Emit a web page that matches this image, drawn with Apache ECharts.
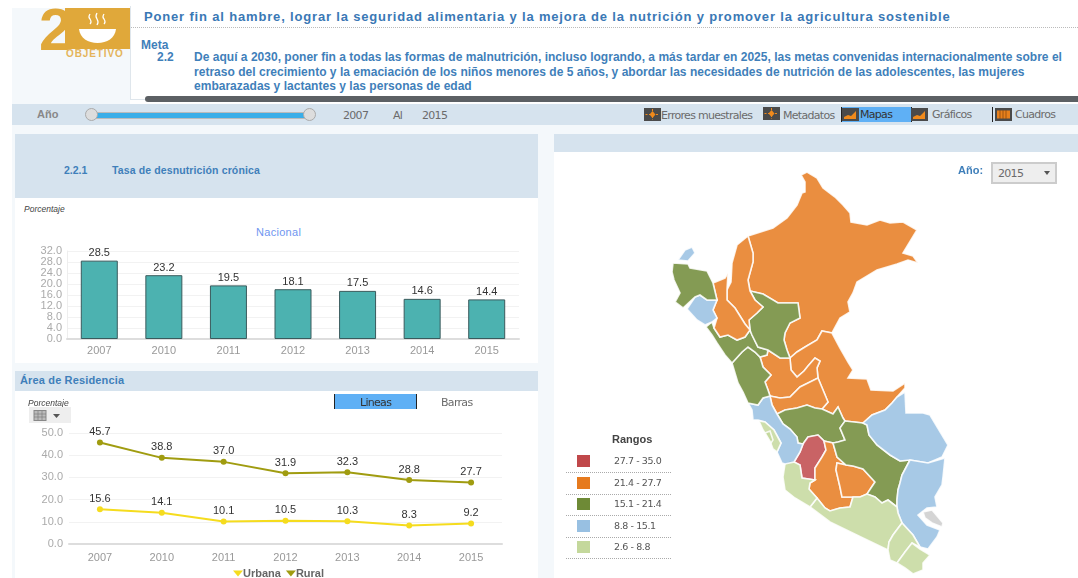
<!DOCTYPE html>
<html>
<head>
<meta charset="utf-8">
<title>Objetivo 2</title>
<script src="https://cdn.jsdelivr.net/npm/echarts@6/dist/echarts.min.js"></script>
<style>
html, body { margin: 0; padding: 0; background: #fff; overflow: hidden; }
body { width: 1078px; height: 578px; position: relative; font-family: "Liberation Sans", Arial, sans-serif; }
.box { position: absolute; }
.txt { position: absolute; white-space: nowrap; }
.blue { color: #3f7fba; font-weight: bold; }
.tab { color: #6b6b6b; font-size: 11px; font-family: "DejaVu Sans", sans-serif; letter-spacing: -0.7px; }
.icon { position: absolute; }
.rango { position: absolute; left: 566px; width: 105px; height: 22px; border-bottom: 1px dotted #aaa; }
.rango i { position: absolute; left: 11px; top: 5px; width: 13px; height: 12px; }
.rango span { position: absolute; left: 48px; top: 5px; font-size: 9.5px; color: #555; font-family: "DejaVu Sans", sans-serif; letter-spacing: -0.4px; }
</style>
</head>
<body>
<!-- fondo -->
<div class="box" style="left:12px;top:8px;width:118px;height:96px;background:#f4f8fb"></div>
<div class="box" style="left:12px;top:125px;width:1066px;height:453px;background:#f4f8fb"></div>
<div class="box" style="left:12px;top:104px;width:1066px;height:21px;background:#d6e3ee"></div>

<!-- logo -->
<div class="txt" style="left:39px;top:-1px;font-size:60px;line-height:62px;font-weight:bold;color:#e0a83a;font-family:'Liberation Sans Narrow','Liberation Sans'">2</div>
<svg class="box" style="left:65px;top:8px" width="66" height="41" viewBox="0 0 66 41">
  <rect width="66" height="41" fill="#e0a83a"/>
  <path d="M14 21 H51 C50 30 42 35 32.5 35 C23 35 15 30 14 21 Z" fill="#fff"/>
  <path d="M25 6 q-2 3 0 5 q2 3 0 5 M32 5 q-2 3 0 6 q2 3 0 6 M39 6 q-2 3 0 5 q2 3 0 5" stroke="#fff" stroke-width="1.3" fill="none"/>
</svg>
<div class="txt" style="left:66px;top:48px;font-size:10px;font-weight:bold;color:#e4b45a;letter-spacing:.9px">OBJETIVO</div>

<!-- encabezado -->
<div class="box" style="left:130px;top:6px;width:948px;height:93px;border-left:1px solid #dfe6ec;border-bottom:1px solid #dfe6ec"></div>
<div class="txt blue" style="left:144px;top:9px;font-size:13px;letter-spacing:.83px;color:#3a78b5">Poner fin al hambre, lograr la seguridad alimentaria y la mejora de la nutrición y promover la agricultura sostenible</div>
<div class="box" style="left:131px;top:27px;width:947px;border-top:1px dotted #bbb"></div>
<div class="txt blue" style="left:141px;top:38px;font-size:12px">Meta</div>
<div class="txt blue" style="left:157px;top:50px;font-size:12px">2.2</div>
<div class="txt blue" style="left:194px;top:50px;font-size:12px;line-height:14.5px;letter-spacing:.02px">De aquí a 2030, poner fin a todas las formas de malnutrición, incluso logrando, a más tardar en 2025, las metas convenidas internacionalmente sobre el<br>retraso del crecimiento y la emaciación de los niños menores de 5 años, y abordar las necesidades de nutrición de las adolescentes, las mujeres<br>embarazadas y lactantes y las personas de edad</div>
<div class="box" style="left:145px;top:96px;width:933px;height:6px;background:#5c6064;border-radius:3px 0 0 3px"></div>

<!-- barra de filtros -->
<div class="txt" style="left:37px;top:108px;font-size:11px;font-weight:bold;color:#888">Año</div>
<div class="box" style="left:92px;top:112px;width:218px;height:5px;background:#3aaee8;border:1px solid #bbb;border-radius:3px"></div>
<div class="box" style="left:85px;top:108px;width:11px;height:11px;background:#ddd;border:1px solid #aaa;border-radius:50%"></div>
<div class="box" style="left:303px;top:108px;width:11px;height:11px;background:#ddd;border:1px solid #aaa;border-radius:50%"></div>
<div class="txt tab" style="left:343px;top:109px">2007</div>
<div class="txt tab" style="left:393px;top:109px">Al</div>
<div class="txt tab" style="left:422px;top:109px">2015</div>
<div class="box" style="left:841px;top:107px;width:69px;height:15px;background:#5fb0f5;border-left:1px solid #222;border-right:1px solid #222"></div>
<svg class="icon" style="left:644px;top:108px" width="17" height="13"><rect width="17" height="13" fill="#4a4a4a"/><path d="M8.5 3L11.5 6.5L8.5 10L5.5 6.5Z" fill="#f08a1c"/><path d="M1.5 6.5H15.5M8.5 1V12" stroke="#f08a1c" stroke-dasharray="2 1.5"/></svg>
<div class="txt tab" style="left:661px;top:109px">Errores muestrales</div>
<svg class="icon" style="left:763px;top:107px" width="17" height="13"><rect width="17" height="13" fill="#4a4a4a"/><path d="M8.5 3L11.5 6.5L8.5 10L5.5 6.5Z" fill="#f08a1c"/><path d="M1.5 6.5H15.5M8.5 1V12" stroke="#f08a1c" stroke-dasharray="2 1.5"/></svg>
<div class="txt tab" style="left:783px;top:109px">Metadatos</div>
<svg class="icon" style="left:842px;top:108px" width="17" height="13"><rect width="17" height="13" fill="#4a4a4a"/><path d="M2 11V9L6 7L9 8L14 3V11Z" fill="#f08a1c"/></svg>
<div class="txt tab" style="left:860px;top:108px;color:#333">Mapas</div>
<svg class="icon" style="left:911px;top:108px" width="17" height="13"><rect width="17" height="13" fill="#4a4a4a"/><path d="M2 11V9L6 7L9 8L14 3V11Z" fill="#f08a1c"/></svg>
<div class="txt tab" style="left:932px;top:108px">Gráficos</div>
<div class="box" style="left:992px;top:107px;width:1px;height:15px;background:#222"></div>
<svg class="icon" style="left:995px;top:108px" width="17" height="13"><rect width="17" height="13" fill="#4a4a4a"/><path d="M2 2.5H15V10.5H2Z" fill="#e8801c"/><path d="M5 2V11M8 2V11M11 2V11" stroke="#8a4a10" stroke-width=".8"/></svg>
<div class="txt tab" style="left:1015px;top:108px">Cuadros</div>

<!-- panel izquierdo -->
<div class="box" style="left:15px;top:134px;width:523px;height:64px;background:#d6e3ee"></div>
<div class="box" style="left:15px;top:198px;width:523px;height:165px;background:#fff"></div>
<div class="txt blue" style="left:64px;top:164px;font-size:10.5px">2.2.1</div>
<div class="txt blue" style="left:112px;top:164px;font-size:10.5px;letter-spacing:.12px">Tasa de desnutrición crónica</div>
<div class="txt" style="left:24px;top:204px;font-size:8.5px;font-style:italic;color:#444">Porcentaje</div>
<div class="txt" style="left:256px;top:226px;font-size:11px;color:#6f96f0;letter-spacing:.3px">Nacional</div>
<div id="barChart" class="box" style="left:15px;top:198px;width:523px;height:165px"></div>

<div class="box" style="left:15px;top:371px;width:523px;height:20px;background:#d6e3ee"></div>
<div class="txt blue" style="left:20px;top:374px;font-size:11px;letter-spacing:.15px">Área de Residencia</div>
<div class="box" style="left:15px;top:391px;width:523px;height:187px;background:#fff"></div>
<div id="lineChart" class="box" style="left:15px;top:391px;width:523px;height:187px"></div>
<div class="txt" style="left:28px;top:398px;font-size:8.5px;font-style:italic;color:#444">Porcentaje</div>
<div class="box" style="left:29px;top:407px;width:42px;height:16px;background:#eee"></div>
<svg class="box" style="left:33px;top:410px" width="30" height="11" viewBox="0 0 30 11">
  <rect x="1" y="0.5" width="12" height="10" fill="#bbb" stroke="#888"/>
  <path d="M1 4H13M1 7H13M5 1V10M9 1V10" stroke="#777" stroke-width=".6"/>
  <path d="M20 4H27L23.5 8Z" fill="#555"/>
</svg>
<div class="box" style="left:334px;top:394px;width:81px;height:15px;background:#5fb0f5;border-left:1px solid #222;border-right:1px solid #222"></div>
<div class="txt tab" style="left:360px;top:396px;color:#333">Lineas</div>
<div class="txt tab" style="left:441px;top:396px">Barras</div>

<!-- panel derecho -->
<div class="box" style="left:554px;top:134px;width:524px;height:18px;background:#d6e3ee"></div>
<div class="box" style="left:554px;top:152px;width:524px;height:426px;background:#fff"></div>
<div id="mapChart" class="box" style="left:554px;top:152px;width:524px;height:426px"></div>
<div class="txt blue" style="left:958px;top:164px;font-size:11px">Año:</div>
<div class="box" style="left:991px;top:162px;width:62px;height:18px;background:#eee;border:2px solid #ccc;box-sizing:content-box"></div>
<div class="txt tab" style="left:998px;top:167px">2015</div>
<div class="box" style="left:1044px;top:171px;border-top:4px solid #555;border-left:3px solid transparent;border-right:3px solid transparent"></div>

<div class="txt" style="left:612px;top:433px;font-size:11px;font-weight:bold;color:#444">Rangos</div>
<div id="rangos"></div>

<script>
// datos
const years = ['2007', '2010', '2011', '2012', '2013', '2014', '2015'];
const nacional = [28.5, 23.2, 19.5, 18.1, 17.5, 14.6, 14.4];
const urbana = [15.6, 14.1, 10.1, 10.5, 10.3, 8.3, 9.2];
const rural = [45.7, 38.8, 37.0, 31.9, 32.3, 28.8, 27.7];

const rangeLabels = ['27.7 - 35.0', '21.4 - 27.7', '15.1 - 21.4', '8.8 - 15.1', '2.6 - 8.8'];
const rangeMin = [27.7, 21.4, 15.1, 8.8, 2.6];
const rangeMax = [35.0, 27.7, 21.4, 15.1, 8.8];
const rangeColors = ['#c0484a', '#e67a1e', '#6e8a36', '#98c0e2', '#c4d89c'];

const regionNames = ['Loreto', 'Ucayali', 'Huanuco', 'Pasco', 'Junin', 'Huancavelica', 'Ayacucho', 'Apurimac', 'Cusco',
    'Madre de Dios', 'Puno', 'Arequipa', 'Moquegua', 'Tacna', 'Ica', 'Lima', 'Lima Metropolitana', 'Callao', 'Ancash',
    'La Libertad', 'San Martin', 'Amazonas', 'Cajamarca', 'Lambayeque', 'Piura', 'Tumbes', 'Lago Titicaca'];
const regionValues = [23.6, 24.8, 24.2, 23.0, 20.0, 34.0, 26.1, 22.3, 18.2,
    9.8, 14.4, 5.7, 3.7, 2.6, 6.7, 8.9, 5.0, 5.2, 21.1,
    19.9, 16.9, 26.6, 26.0, 13.5, 19.9, 8.9, null];

// contornos de las regiones (x, y sobre el mapa)
const regionShapes = {
    'Loreto': [748,236,773,228,787,218,797,205,802,193,805,192,805,182,801,175,807,172,817,178,823,188,835,197,843,205,850,213,851,222,867,225,880,220,890,223,903,222,917,230,903,253,913,256,918,263,908,260,897,264,877,270,857,282,853,293,848,302,850,312,840,318,832,333,822,331,817,340,805,347,797,352,790,358,787,350,784,340,785,333,790,323,800,318,798,303,778,303,763,294,750,291,748,280,753,262,753,253],
    'Ucayali': [822,331,832,333,840,348,848,362,853,370,848,378,867,379,871,390,893,391,905,383,905,388,897,397,892,403,885,410,872,415,863,423,845,421,843,418,838,407,833,414,822,409,828,402,823,390,818,378,817,368,820,361,815,358,808,366,804,371,797,377,791,370,790,358,797,352,805,347,817,340],
    'Huanuco': [760,357,767,355,768,350,780,358,790,358,791,370,797,377,804,371,808,366,815,358,820,361,817,368,818,378,808,383,800,387,790,397,780,398,770,396,768,390,765,382,771,375,763,367],
    'Pasco': [770,396,780,398,790,397,800,387,808,383,818,378,823,390,828,402,822,409,815,408,807,405,797,408,785,410,777,414,772,405],
    'Junin': [777,414,785,410,797,408,807,405,815,408,822,409,833,414,838,407,843,418,845,421,840,428,845,440,838,442,833,443,824,441,818,435,808,437,803,444,798,443,797,437,790,429,783,424],
    'Huancavelica': [808,437,818,435,824,441,826,450,822,457,815,468,815,480,802,478,800,465,794,462,800,452,803,444],
    'Ayacucho': [824,441,833,443,837,457,846,465,837,463,836,470,840,487,842,497,853,497,850,507,840,508,830,511,825,508,817,498,809,489,810,483,815,480,815,468,822,457,826,450],
    'Apurimac': [837,463,846,465,853,466,863,469,875,482,867,494,860,497,853,497,842,497,840,487,836,470],
    'Cusco': [845,421,863,423,867,425,869,435,877,445,890,455,900,461,910,460,902,475,900,483,898,490,897,500,897,507,888,500,882,503,875,497,867,494,875,482,863,469,853,466,846,465,837,457,833,443,838,442,845,440,840,428],
    'Madre de Dios': [863,423,872,415,885,410,892,403,897,397,905,392,906,413,923,413,930,415,948,445,942,457,928,463,910,460,900,461,890,455,877,445,869,435,867,425],
    'Puno': [910,460,928,463,945,458,943,477,942,485,935,497,937,507,927,508,918,515,927,525,940,530,937,537,928,549,920,547,913,535,902,523,898,513,897,507,897,500,898,490,900,483,902,475],
    'Lago Titicaca': [923,512,932,510,943,523,942,527,932,523,925,518],
    'Arequipa': [810,507,817,498,825,508,830,511,840,508,850,507,853,497,860,497,867,494,875,497,882,503,888,500,897,507,898,513,902,523,893,535,889,542,888,550,863,538,830,522],
    'Moquegua': [902,523,913,535,920,547,912,543,905,552,897,563,890,560,888,550,889,542,893,535],
    'Tacna': [912,543,920,549,930,555,923,563,923,570,913,574,905,568,897,563,905,552],
    'Ica': [785,464,790,460,794,462,800,465,802,478,815,480,810,483,809,489,817,498,810,507,795,498,785,490,783,477],
    'Lima': [748,403,758,405,763,398,770,396,772,405,777,414,783,424,790,429,797,437,798,443,803,444,800,452,794,462,785,464,782,463,777,452,781,443,774,430,765,422,758,420,753,420,752,410],
    'Lima Metropolitana': [759,421,765,422,774,430,781,443,777,452,773,449,770,441,763,430],
    'Callao': [765,433,770,431,773,440,771,443],
    'Ancash': [732,363,742,352,748,347,755,352,760,357,763,367,771,375,765,382,768,390,770,396,763,398,758,405,748,403,743,392,738,383,735,373],
    'La Libertad': [706,327,712,322,714,328,720,337,728,335,737,340,745,337,750,330,752,335,758,347,768,350,767,355,760,357,755,352,748,347,742,352,732,363,725,355,717,343,712,335],
    'San Martin': [750,291,763,294,778,303,798,303,800,318,790,323,785,333,784,340,787,350,790,358,780,358,768,350,758,347,752,335,750,330,749,320,757,313,763,307,755,300],
    'Amazonas': [748,236,753,253,753,262,748,280,750,291,755,300,763,307,757,313,749,320,750,330,745,324,735,308,727,300,727,290,731,282,732,263,737,245],
    'Cajamarca': [728,273,727,290,727,300,735,308,745,324,750,330,745,337,737,340,728,335,720,337,714,328,717,318,713,310,717,300,713,283,725,278],
    'Lambayeque': [700,295,707,300,717,300,713,310,717,318,712,322,705,325,697,320,687,309,695,297],
    'Piura': [673,263,688,264,690,268,707,271,713,283,717,300,707,300,700,295,695,297,683,308,675,302,680,293,674,280,672,272],
    'Tumbes': [678,260,685,250,692,247,695,253,688,261]
};

// leyenda de rangos
const rangos = document.getElementById('rangos');
rangeLabels.forEach((label, i) => {
    const row = document.createElement('div');
    row.className = 'rango';
    row.style.top = (450 + i * 21.5) + 'px';
    row.innerHTML = '<i style="background:' + rangeColors[i] + '"></i><span>' + label + '</span>';
    rangos.appendChild(row);
});

const chartFont = 'Liberation Sans';
const tickStyle = { color: '#aaa', fontFamily: chartFont, lineHeight: 10 };
const catStyle = { color: '#999', fontSize: 11, fontFamily: chartFont };
const valueLabel = { show: true, position: 'top', color: '#333', fontSize: 11, fontFamily: chartFont };

// grafico nacional
const barChart = echarts.init(document.getElementById('barChart'));
barChart.setOption({
    animation: false,
    grid: { left: 52, right: 19, top: 53, bottom: 24 },
    xAxis: {
        type: 'category',
        data: years,
        axisTick: { show: false },
        axisLine: { lineStyle: { color: '#ddd', width: 2 } },
        axisLabel: { ...catStyle, margin: 6 }
    },
    yAxis: {
        type: 'value',
        min: 0,
        max: 32,
        interval: 4,
        axisLabel: { ...tickStyle, formatter: v => v.toFixed(1), fontSize: 11, margin: 5 },
        axisLine: { show: true, lineStyle: { color: '#eee' } },
        splitLine: { lineStyle: { color: '#f2f2f2' } }
    },
    series: [{
        type: 'bar',
        data: nacional,
        barWidth: 37,
        itemStyle: { color: '#4cb2b0', borderColor: '#3a5a5c', borderWidth: 1 },
        label: { ...valueLabel, formatter: p => p.value.toFixed(1), distance: 2 }
    }]
});

// grafico por area de residencia
const lineChart = echarts.init(document.getElementById('lineChart'));
const lineSeries = (name, data, color) => ({
    name,
    type: 'line',
    data,
    symbol: 'circle',
    symbolSize: 6,
    lineStyle: { color, width: 2 },
    itemStyle: { color },
    label: { ...valueLabel, formatter: p => p.value.toFixed(1), distance: 2 }
});
lineChart.setOption({
    animation: false,
    grid: { left: 54, right: 36, top: 42, bottom: 34 },
    legend: {
        left: 213,
        bottom: -6,
        itemWidth: 10,
        itemHeight: 6,
        itemGap: 5,
        icon: 'path://M0 0L10 0L5 6Z',
        textStyle: { color: '#666', fontSize: 11, fontWeight: 'bold', padding: [0, 0, 0, -5], fontFamily: chartFont },
        data: ['Urbana', 'Rural']
    },
    xAxis: {
        type: 'category',
        data: years,
        axisTick: { show: false },
        axisLine: { lineStyle: { color: '#ddd', width: 2 } },
        axisLabel: { ...catStyle, margin: 8 }
    },
    yAxis: {
        type: 'value',
        min: 0,
        max: 50,
        interval: 10,
        axisLabel: { ...tickStyle, formatter: v => v.toFixed(1), fontSize: 11, margin: 6 },
        splitLine: { lineStyle: { color: '#f2f2f2' } }
    },
    series: [
        lineSeries('Urbana', urbana, '#f5dc1e'),
        lineSeries('Rural', rural, '#a09c10')
    ]
});

// mapa por regiones
const peruGeo = {
    type: 'FeatureCollection',
    features: Object.keys(regionShapes).map(name => {
        const flat = regionShapes[name];
        const ring = [];
        for (let i = 0; i < flat.length; i += 2) {
            ring.push([flat[i], -flat[i + 1]]);
        }
        ring.push(ring[0]);
        return { type: 'Feature', properties: { name }, geometry: { type: 'Polygon', coordinates: [ring] } };
    })
};
echarts.registerMap('peru', peruGeo);

const mapChart = echarts.init(document.getElementById('mapChart'));
mapChart.setOption({
    animation: false,
    visualMap: {
        type: 'piecewise',
        show: false,
        seriesIndex: 0,
        pieces: rangeLabels.map((label, i) => ({ min: rangeMin[i], max: rangeMax[i], label, color: rangeColors[i] }))
    },
    series: [{
        type: 'map',
        map: 'peru',
        silent: true,
        aspectScale: 1,
        left: 118,
        top: 20,
        width: 276,
        height: 402,
        boundingCoords: [[672, -172], [948, -574]],
        label: { show: false },
        itemStyle: { areaColor: '#cccccc', borderColor: '#ffffff', borderWidth: 1.6, opacity: 0.85 },
        data: regionNames.map((name, i) => ({ name, value: regionValues[i] === null ? NaN : regionValues[i] }))
    }]
});
</script>
</body>
</html>
